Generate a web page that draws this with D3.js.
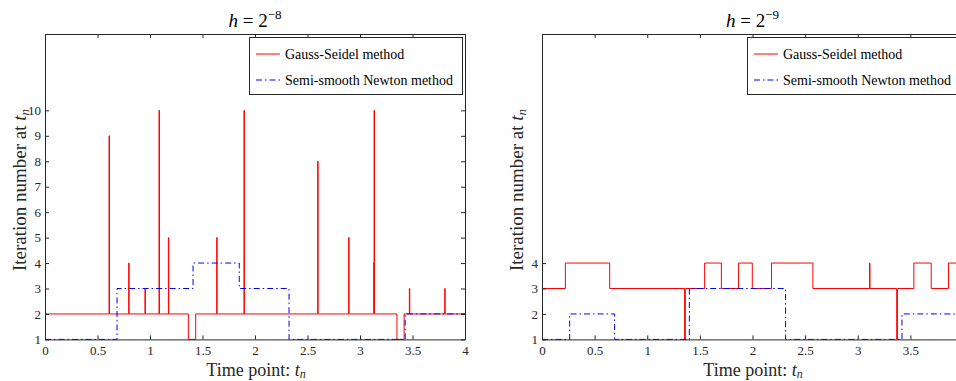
<!DOCTYPE html>
<html>
<head>
<meta charset="utf-8">
<script src="https://cdn.jsdelivr.net/npm/d3@7"></script>
<style>
  body { margin: 0; background: #fff; }
  svg { display: block; font-family: "Liberation Serif", "Times New Roman", serif; }
</style>
</head>
<body>
<svg width="956" height="381"></svg>
<script>
// breakpoints [time, iterations], drawn as steps
const gaussSeidel8 = [
  [0, 2], [0.61, 9], [0.614, 2], [0.797, 4], [0.801, 2], [0.952, 3], [0.956, 2],
  [1.086, 10], [1.09, 2], [1.175, 5], [1.179, 2], [1.365, 1], [1.435, 2],
  [1.635, 5], [1.639, 2], [1.895, 10], [1.899, 2], [2.597, 8], [2.601, 2],
  [2.892, 5], [2.896, 2], [3.13, 4], [3.134, 10], [3.138, 2], [3.352, 1], [3.42, 2],
  [3.47, 3], [3.474, 2], [3.807, 3], [3.811, 2], [4, 2]
];
const newton8 = [[0, 1], [0.686, 3], [1.41, 4], [1.85, 3], [2.324, 1], [3.43, 2], [4, 2]];

const gaussSeidel9 = [
  [0, 3], [0.222, 4], [0.643, 3], [1.355, 1], [1.362, 3], [1.545, 4], [1.704, 3],
  [1.868, 4], [1.998, 3], [2.181, 4], [2.574, 3], [3.112, 4], [3.116, 3],
  [3.37, 1], [3.377, 3], [3.533, 4], [3.698, 3], [3.862, 4], [4, 4]
];
const newton9 = [[0, 1], [0.263, 2], [0.69, 1], [1.4, 3], [2.314, 1], [3.42, 2], [4, 2]];

const xTickValues = [0, 0.5, 1, 1.5, 2, 2.5, 3, 3.5, 4];
const yTicks8 = [1, 2, 3, 4, 5, 6, 7, 8, 9, 10];
const yTicks9 = [1, 2, 3, 4];
const legendLabels = ['Gauss-Seidel method', 'Semi-smooth Newton method'];

const svg = d3.select('svg');
const svgWidth = +svg.attr('width');
const axisColor = '#262626';
const serif = '"Liberation Serif", "Times New Roman", serif';
const plotTop = 34, plotBottom = 339.4;

function drawPanel(left, right, exponent, gs, sn, yTickValues) {
  const x = d3.scaleLinear().domain([0, 4]).range([left, right]);
  const y = d3.scaleLinear().domain([1, 13]).range([plotBottom, plotTop]);

  const g = svg.append('g');

  // data lines
  const line = d3.line()
      .x(d => x(d[0]))
      .y(d => y(d[1]))
      .curve(d3.curveStepAfter);

  g.append('path')
      .datum(gs)
      .attr('fill', 'none')
      .attr('stroke', '#ff0000')
      .attr('stroke-width', 1)
      .attr('d', line);

  g.append('path')
      .datum(sn)
      .attr('fill', 'none')
      .attr('stroke', '#0000ff')
      .attr('stroke-width', 1)
      .attr('stroke-dasharray', '6,3,1.5,3')
      .attr('d', line);

  // axes, ticks point inward
  const styleAxis = sel => {
    sel.attr('font-family', serif).attr('font-size', null);
    sel.selectAll('path.domain').attr('stroke', axisColor);
    sel.selectAll('.tick line').attr('stroke', axisColor);
    sel.selectAll('.tick text')
        .attr('fill', axisColor)
        .style('font-family', serif)
        .style('font-size', '13px');
  };

  // only label ticks that fall inside the page
  const xVisible = xTickValues.filter(d => x(d) + 4 < svgWidth);

  g.append('g')
      .attr('transform', `translate(0,${plotBottom})`)
      .call(d3.axisBottom(x).tickValues(xTickValues).tickSizeInner(-4).tickSizeOuter(0)
        .tickPadding(6).tickFormat(d => xVisible.includes(d) ? d : ''))
      .call(styleAxis);
  g.append('g')
      .attr('transform', `translate(0,${plotTop})`)
      .call(d3.axisTop(x).tickValues(xTickValues).tickSizeInner(-4).tickSizeOuter(0)
        .tickFormat(''))
      .call(styleAxis);
  g.append('g')
      .attr('transform', `translate(${left},0)`)
      .call(d3.axisLeft(y).tickValues(yTickValues).tickSizeInner(-4).tickSizeOuter(0)
        .tickPadding(4).tickFormat(d3.format('d')))
      .call(styleAxis);
  g.append('g')
      .attr('transform', `translate(${right},0)`)
      .call(d3.axisRight(y).tickValues(yTickValues).tickSizeInner(-4).tickSizeOuter(0)
        .tickFormat(''))
      .call(styleAxis);

  // title
  const title = g.append('text')
      .attr('x', (left + right) / 2)
      .attr('y', 26.5)
      .attr('text-anchor', 'middle')
      .attr('fill', '#000')
      .style('font-size', '19px');
  title.append('tspan').attr('font-style', 'italic').text('h');
  title.append('tspan').text(' = 2');
  title.append('tspan')
      .attr('dy', -8)
      .style('font-size', '13px')
      .text('\u2212' + exponent);

  // axis labels
  const xl = g.append('text')
      .attr('x', left + 211)
      .attr('y', 375.5)
      .attr('text-anchor', 'middle')
      .attr('fill', axisColor)
      .style('font-size', '18px');
  xl.append('tspan').text('Time point: ');
  xl.append('tspan').attr('font-style', 'italic').text('t');
  xl.append('tspan').attr('dy', 2.5).style('font-size', '12px').attr('font-style', 'italic').text('n');

  const yl = g.append('text')
      .attr('transform', `translate(${left - 19},190) rotate(-90)`)
      .attr('text-anchor', 'middle')
      .attr('fill', axisColor)
      .style('font-size', '19px');
  yl.append('tspan').text('Iteration number at ');
  yl.append('tspan').attr('font-style', 'italic').text('t');
  yl.append('tspan').attr('dy', 3).style('font-size', '13px').attr('font-style', 'italic').text('n');

  // legend
  const lx = right - 216;
  const legend = g.append('g').attr('transform', `translate(${lx},37)`);
  legend.append('rect')
      .attr('x', 0.5).attr('y', 0.5)
      .attr('width', 213).attr('height', 57)
      .attr('fill', '#fff')
      .attr('stroke', axisColor);
  const entries = [
    { label: legendLabels[0], color: '#ff0000', dash: null },
    { label: legendLabels[1], color: '#0000ff', dash: '6,3,1.5,3' }
  ];
  entries.forEach((e, i) => {
    const cy = 17 + i * 26;
    legend.append('line')
        .attr('x1', 7).attr('x2', 31)
        .attr('y1', cy).attr('y2', cy)
        .attr('stroke', e.color)
        .attr('stroke-dasharray', e.dash);
    legend.append('text')
        .attr('x', 36)
        .attr('y', cy + 5)
        .attr('fill', '#000')
        .style('font-size', '14px')
        .text(e.label);
  });
}

drawPanel(45, 465, 8, gaussSeidel8, newton8, yTicks8);
drawPanel(542, 963, 9, gaussSeidel9, newton9, yTicks9);
</script>
</body>
</html>
